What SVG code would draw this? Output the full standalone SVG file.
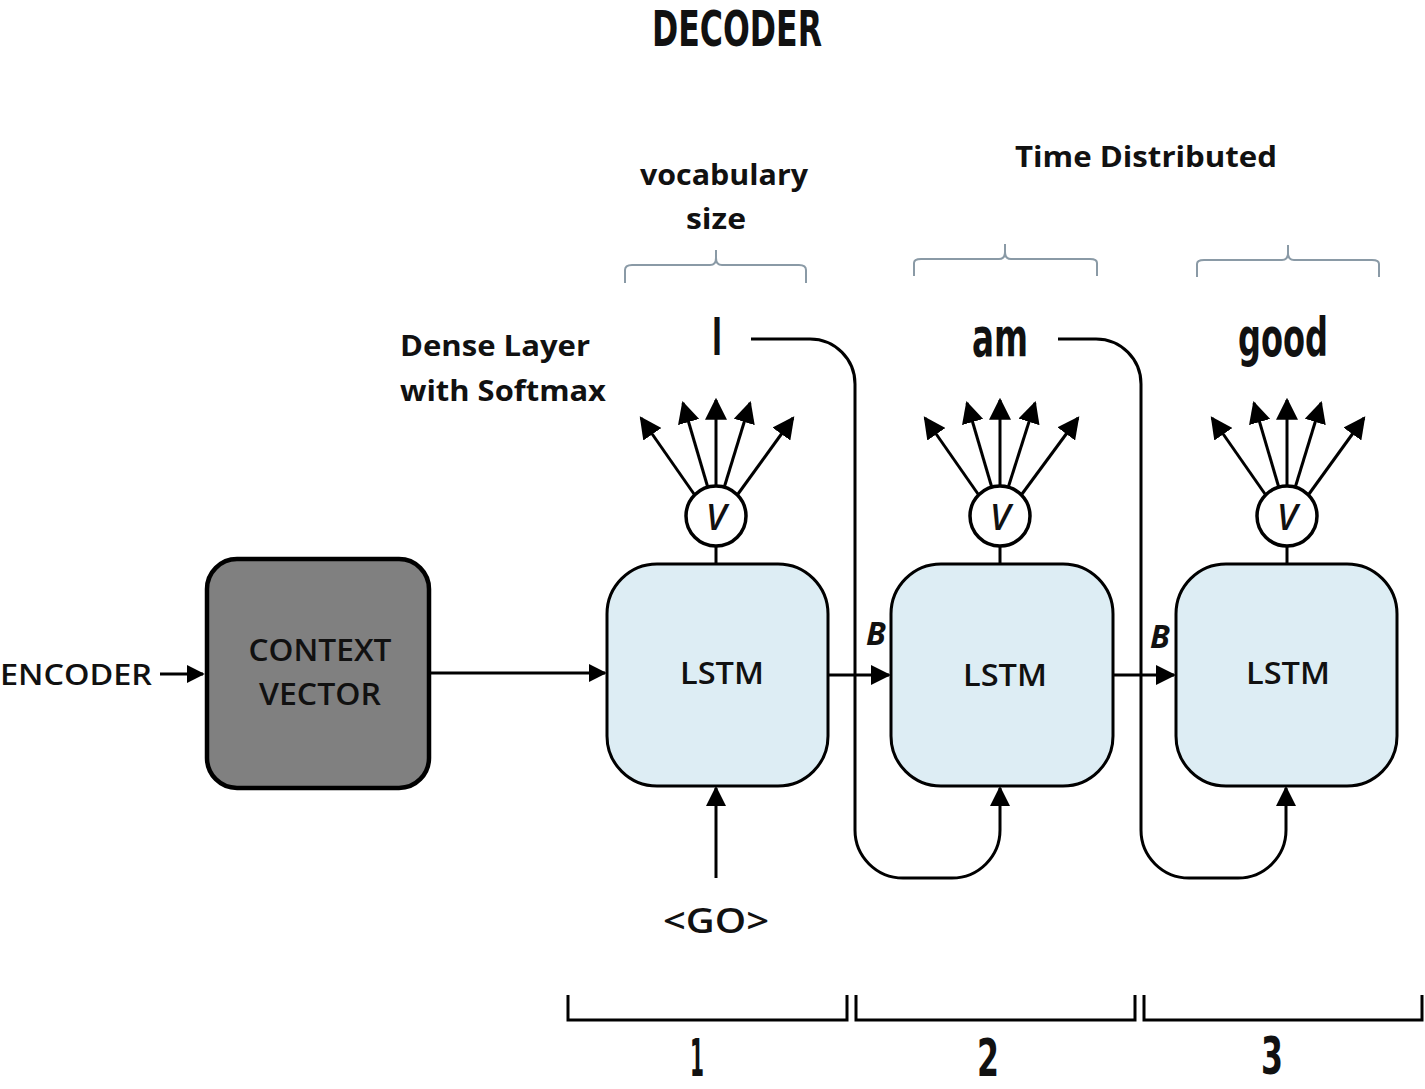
<svg xmlns="http://www.w3.org/2000/svg" width="1425" height="1089" viewBox="0 0 1425 1089">
<defs>
<style>
.cond{font-family:"DejaVu Sans Condensed","DejaVu Sans",sans-serif;font-weight:bold;fill:#111;}
.lbl{font-family:"Open Sans","Noto Sans",sans-serif;font-weight:bold;fill:#111;}
.ln{stroke:#000;stroke-width:3;fill:none;}
.brace{stroke:#8a9aa6;stroke-width:2;fill:none;}
.lstm{fill:#ddedf4;stroke:#000;stroke-width:3;}
.vc{fill:#fff;stroke:#000;stroke-width:3.5;}
.vt{font-family:"Open Sans","Noto Sans",sans-serif;font-style:italic;font-weight:600;font-size:36px;fill:#111;}
</style>
<marker id="ah" viewBox="0 0 10 10" refX="9" refY="5" markerWidth="20" markerHeight="20" markerUnits="userSpaceOnUse" orient="auto"><path d="M0,0 L10,5 L0,10 z" fill="#000"/></marker>
<marker id="ahf" viewBox="0 0 10 10" refX="9" refY="5" markerWidth="22" markerHeight="22" markerUnits="userSpaceOnUse" orient="auto"><path d="M0,0 L10,5 L0,10 z" fill="#000"/></marker>
<marker id="ahs" viewBox="0 0 10 10" refX="9" refY="5" markerWidth="18" markerHeight="18" markerUnits="userSpaceOnUse" orient="auto"><path d="M0,0 L10,5 L0,10 z" fill="#000"/></marker>
</defs>
<rect width="1425" height="1089" fill="#fff"/>

<text class="cond" x="737" y="46" text-anchor="middle" font-size="50" textLength="170" lengthAdjust="spacingAndGlyphs">DECODER</text>

<g id="labels">
<text class="lbl" x="724" y="185" text-anchor="middle" font-size="28" textLength="168" lengthAdjust="spacingAndGlyphs">vocabulary</text>
<text class="lbl" x="716" y="229" text-anchor="middle" font-size="28" textLength="60" lengthAdjust="spacingAndGlyphs">size</text>
<text class="lbl" x="1146" y="167" text-anchor="middle" font-size="28" textLength="262" lengthAdjust="spacingAndGlyphs">Time Distributed</text>
<text class="lbl" x="400" y="356" font-size="28" textLength="190" lengthAdjust="spacingAndGlyphs">Dense Layer</text>
<text class="lbl" x="400" y="401" font-size="28" textLength="206" lengthAdjust="spacingAndGlyphs">with Softmax</text>
<text class="cond" x="717" y="355" text-anchor="middle" font-size="52" textLength="10" lengthAdjust="spacingAndGlyphs">I</text>
<text class="cond" x="1000" y="356" text-anchor="middle" font-size="54" textLength="56" lengthAdjust="spacingAndGlyphs">am</text>
<text class="cond" x="1283" y="356" text-anchor="middle" font-size="54" textLength="90" lengthAdjust="spacingAndGlyphs">good</text>
<text class="lbl" x="0" y="685" font-size="28" style="font-weight:600" textLength="152" lengthAdjust="spacingAndGlyphs">ENCODER</text>
<text class="lbl" x="716" y="933" text-anchor="middle" font-size="34" style="font-weight:600" textLength="106" lengthAdjust="spacingAndGlyphs">&lt;GO&gt;</text>
<text class="lbl" x="876" y="645" text-anchor="middle" font-size="32" font-style="italic">B</text>
<text class="lbl" x="1160" y="648" text-anchor="middle" font-size="32" font-style="italic">B</text>
<text class="cond" x="697" y="1076" text-anchor="middle" font-size="52" textLength="14" lengthAdjust="spacingAndGlyphs">1</text>
<text class="cond" x="988" y="1076" text-anchor="middle" font-size="52" textLength="22" lengthAdjust="spacingAndGlyphs">2</text>
<text class="cond" x="1272" y="1074" text-anchor="middle" font-size="52" textLength="22" lengthAdjust="spacingAndGlyphs">3</text>
</g>

<g id="braces">
<path class="brace" d="M625,283 V270 Q625,265 632,265 H710 Q716,265 716,258 V250 M716,258 Q716,265 722,265 H799 Q806,265 806,270 V283"/>
<path class="brace" d="M914,276 V263 Q914,259 921,259 H999 Q1005,259 1005,252 V244 M1005,252 Q1005,259 1011,259 H1090 Q1097,259 1097,263 V276"/>
<path class="brace" d="M1197,277 V264 Q1197,260 1204,260 H1282 Q1288,260 1288,253 V245 M1288,253 Q1288,260 1294,260 H1372 Q1379,260 1379,264 V277"/>
</g>

<g id="context-vector">
<rect x="207" y="559" width="222" height="229" rx="30" fill="#808080" stroke="#000" stroke-width="4.5"/>
<text class="lbl" x="320" y="661" text-anchor="middle" font-size="30" style="font-weight:600" fill="#111" textLength="143" lengthAdjust="spacingAndGlyphs">CONTEXT</text>
<text class="lbl" x="320" y="705" text-anchor="middle" font-size="30" style="font-weight:600" fill="#111" textLength="122" lengthAdjust="spacingAndGlyphs">VECTOR</text>
</g>

<g id="lstm1">
<rect class="lstm" x="607" y="564" width="221" height="222" rx="50"/>
<text class="lbl" x="722" y="684" text-anchor="middle" font-size="30" style="font-weight:600" textLength="84" lengthAdjust="spacingAndGlyphs">LSTM</text>
</g>
<g id="lstm2">
<rect class="lstm" x="891" y="564" width="222" height="222" rx="50"/>
<text class="lbl" x="1005" y="686" text-anchor="middle" font-size="30" style="font-weight:600" textLength="84" lengthAdjust="spacingAndGlyphs">LSTM</text>
</g>
<g id="lstm3">
<rect class="lstm" x="1176" y="564" width="221" height="222" rx="50"/>
<text class="lbl" x="1288" y="684" text-anchor="middle" font-size="30" style="font-weight:600" textLength="84" lengthAdjust="spacingAndGlyphs">LSTM</text>
</g>

<g id="dense1">
<circle class="vc" cx="716" cy="516" r="30"/>
<text class="vt" x="716" y="530" text-anchor="middle">V</text>
</g>
<g id="dense2">
<circle class="vc" cx="1000" cy="516" r="30"/>
<text class="vt" x="1000" y="530" text-anchor="middle">V</text>
</g>
<g id="dense3">
<circle class="vc" cx="1287" cy="516" r="30"/>
<text class="vt" x="1287" y="530" text-anchor="middle">V</text>
</g>

<g id="connectors">
<line class="ln" x1="160" y1="674" x2="203" y2="674" marker-end="url(#ahs)"/>
<line class="ln" x1="430" y1="673" x2="605" y2="673" marker-end="url(#ahs)"/>
<line class="ln" x1="828" y1="675" x2="889" y2="675" marker-end="url(#ah)"/>
<line class="ln" x1="1113" y1="675" x2="1174" y2="675" marker-end="url(#ah)"/>
<line class="ln" x1="716" y1="878" x2="716" y2="788" marker-end="url(#ah)"/>
<path class="ln" d="M751,339 H810 A45,45 0 0 1 855,384 V830 A48,48 0 0 0 903,878 H952 A48,48 0 0 0 1000,830 V788" marker-end="url(#ah)"/>
<path class="ln" d="M1058,339 H1096 A45,45 0 0 1 1141,384 V830 A48,48 0 0 0 1189,878 H1238 A48,48 0 0 0 1286,830 V788" marker-end="url(#ah)"/>
<line class="ln" x1="716" y1="546" x2="716" y2="564"/>
<line class="ln" x1="1000" y1="546" x2="1000" y2="564"/>
<line class="ln" x1="1287" y1="546" x2="1287" y2="564"/>
<g id="fan1">
<line class="ln" x1="694" y1="494" x2="641" y2="418" marker-end="url(#ahf)"/>
<line class="ln" x1="708" y1="488" x2="683" y2="403" marker-end="url(#ahf)"/>
<line class="ln" x1="716" y1="486" x2="716" y2="400" marker-end="url(#ahf)"/>
<line class="ln" x1="724" y1="488" x2="750" y2="403" marker-end="url(#ahf)"/>
<line class="ln" x1="738" y1="494" x2="793" y2="418" marker-end="url(#ahf)"/>
</g>
<g id="fan2">
<line class="ln" x1="978" y1="494" x2="925" y2="418" marker-end="url(#ahf)"/>
<line class="ln" x1="992" y1="488" x2="967" y2="403" marker-end="url(#ahf)"/>
<line class="ln" x1="1000" y1="486" x2="1000" y2="400" marker-end="url(#ahf)"/>
<line class="ln" x1="1008" y1="488" x2="1035" y2="403" marker-end="url(#ahf)"/>
<line class="ln" x1="1022" y1="494" x2="1078" y2="418" marker-end="url(#ahf)"/>
</g>
<g id="fan3">
<line class="ln" x1="1265" y1="494" x2="1212" y2="418" marker-end="url(#ahf)"/>
<line class="ln" x1="1279" y1="488" x2="1254" y2="403" marker-end="url(#ahf)"/>
<line class="ln" x1="1287" y1="486" x2="1287" y2="400" marker-end="url(#ahf)"/>
<line class="ln" x1="1295" y1="488" x2="1321" y2="403" marker-end="url(#ahf)"/>
<line class="ln" x1="1309" y1="494" x2="1364" y2="418" marker-end="url(#ahf)"/>
</g>
</g>

<g id="timesteps">
<path class="ln" d="M568,995 V1020 H847 V995"/>
<path class="ln" d="M856,995 V1020 H1135 V995"/>
<path class="ln" d="M1144,995 V1020 H1422 V995"/>
</g>
</svg>
